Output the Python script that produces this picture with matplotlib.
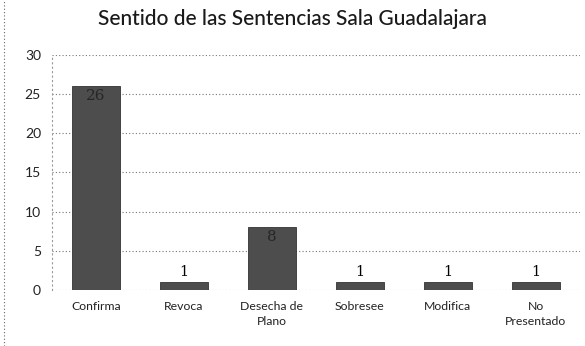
import matplotlib
matplotlib.use("Agg")
import matplotlib.pyplot as plt
from matplotlib.lines import Line2D

# Datos
categorias = ["Confirma", "Revoca", "Desecha de\nPlano", "Sobresee", "Modifica", "No\nPresentado"]
valores = [26, 1, 8, 1, 1, 1]
ticks_y = [0, 5, 10, 15, 20, 25, 30]

plt.rcParams['font.family'] = ['Lato', 'DejaVu Sans']

fig = plt.figure(figsize=(5.85, 3.46), dpi=100)
ax = fig.add_axes([0.089, 0.162, 0.902, 0.679])

x = range(len(categorias))
bars = ax.bar(x, valores, width=0.55, color="#4d4d4d", edgecolor="#333333", linewidth=0.6, zorder=3)

# Etiquetas de valores
for b, v in zip(bars, valores):
    cx = b.get_x() + b.get_width() / 2
    if v > 5:
        ax.text(cx, v - 0.4, str(v), ha="center", va="top", fontsize=11,
                color="#262626", family="DejaVu Serif", zorder=4)
    else:
        ax.text(cx, v + 0.4, str(v), ha="center", va="bottom", fontsize=10.5,
                color="black", family="DejaVu Serif", zorder=4)

ax.set_ylim(0, 30)
ax.set_xlim(-0.5, len(categorias) - 0.5)
ax.set_yticks(ticks_y)
ax.set_xticks(list(x))
ax.set_xticklabels(categorias, fontsize=8.8, color="#222222", linespacing=1.4)
ax.tick_params(axis="y", labelsize=10, length=0, pad=8, colors="#222222")
ax.tick_params(axis="x", length=0, pad=8)
ax.yaxis.grid(True, linestyle=(0, (1, 2)), color="#777777", linewidth=0.8, zorder=0)
for s in ["top", "right", "bottom"]:
    ax.spines[s].set_visible(False)
ax.spines["left"].set_linestyle((0, (1, 3)))
ax.spines["left"].set_color("#999999")
ax.spines["left"].set_linewidth(0.8)

fig.suptitle("Sentido de las Sentencias Sala Guadalajara", x=0.5, y=0.975,
             fontsize=15, color="#1a1a1a", fontweight="medium")

# borde punteado del grafico a la izquierda
fig.add_artist(Line2D([0.006, 0.006], [0.0, 1.0], transform=fig.transFigure,
                      linestyle=(0, (1, 2)), color="#666666", linewidth=0.8))

fig.savefig("out.png", dpi=100, facecolor="white")
